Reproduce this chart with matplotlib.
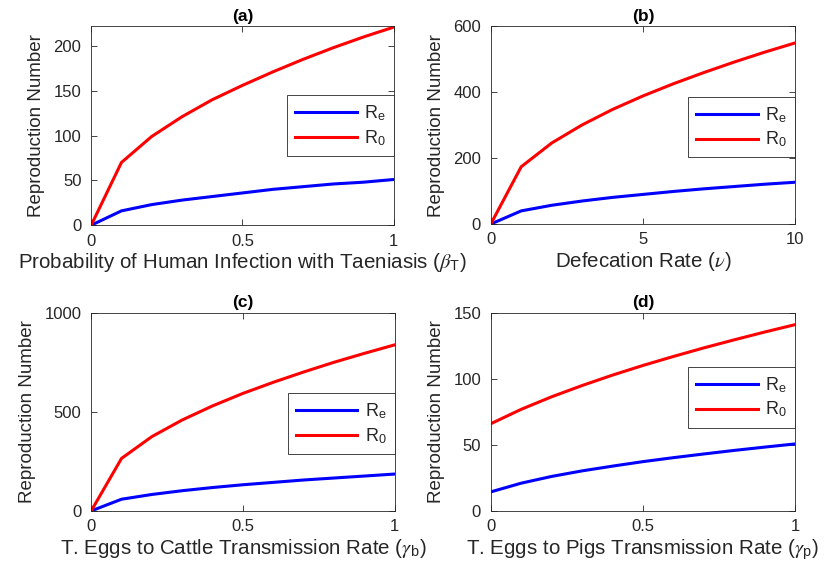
import numpy as np
import matplotlib.pyplot as plt

# values (11 points per curve)
x_a = [0, 0.1, 0.2, 0.3, 0.4, 0.5, 0.6, 0.7, 0.8, 0.9, 1.0]
re_a = [0, 16, 23, 28, 32, 36, 40, 43, 46, 48, 51]
r0_a = [0, 70, 99, 121, 140, 156, 171, 185, 198, 210, 221]

x_b = [0, 1, 2, 3, 4, 5, 6, 7, 8, 9, 10]
re_b = [0, 40, 57, 70, 81, 90, 99, 107, 114, 121, 127]
r0_b = [0, 174, 246, 301, 348, 389, 426, 460, 492, 522, 550]

x_c = [0, 0.1, 0.2, 0.3, 0.4, 0.5, 0.6, 0.7, 0.8, 0.9, 1.0]
re_c = [0, 59, 83, 102, 118, 132, 144, 156, 166, 176, 186]
r0_c = [0, 265, 375, 459, 530, 593, 649, 701, 750, 795, 838]

x_d = [0, 0.1, 0.2, 0.3, 0.4, 0.5, 0.6, 0.7, 0.8, 0.9, 1.0]
re_d = [14.4, 21.0, 26.1, 30.3, 33.9, 37.3, 40.3, 43.1, 45.8, 48.3, 50.7]
r0_d = [66, 76.9, 86.4, 94.9, 102.8, 110.1, 116.9, 123.4, 129.5, 135.4, 141]

txt = '#262626'
plt.rcParams['font.family'] = 'Liberation Sans'
plt.rcParams['mathtext.fontset'] = 'stix'

fig = plt.figure(figsize=(8.29, 5.76), dpi=100)

panels = [
    # rect, x, re, r0, title, xlabel, xlim, ylim, xticks, yticks, legend y
    ([0.110, 0.609, 0.365, 0.3455], x_a, re_a, r0_a, '(a)',
     r'Probability of Human Infection with Taeniasis ($\beta_\mathregular{T}$)',
     (0, 1), (0, 222), [0, 0.5, 1], [0, 50, 100, 150, 200], 0.50),
    ([0.592, 0.611, 0.367, 0.343], x_b, re_b, r0_b, '(b)',
     r'Defecation Rate ($\nu$)',
     (0, 10), (0, 600), [0, 5, 10], [0, 200, 400, 600], 0.49),
    ([0.110, 0.113, 0.366, 0.344], x_c, re_c, r0_c, '(c)',
     r'T. Eggs to Cattle Transmission Rate ($\gamma_\mathregular{b}$)',
     (0, 1), (0, 1000), [0, 0.5, 1], [0, 500, 1000], 0.44),
    ([0.592, 0.113, 0.367, 0.344], x_d, re_d, r0_d, '(d)',
     r'T. Eggs to Pigs Transmission Rate ($\gamma_\mathregular{p}$)',
     (0, 1), (0, 150), [0, 0.5, 1], [0, 50, 100, 150], 0.573),
]

for rect, x, re, r0, title, xlabel, xlim, ylim, xt, yt, ly in panels:
    ax = fig.add_axes(rect)
    ax.plot(x, re, color='#0000ff', lw=2.2, label=r'R$_\mathregular{e}$')
    ax.plot(x, r0, color='#ff0000', lw=2.2, label=r'R$_\mathregular{0}$')
    ax.set_xlim(*xlim)
    ax.set_ylim(*ylim)
    ax.set_xticks(xt)
    ax.set_xticklabels(['0', '0.5', '1'] if xlim[1] == 1 else [str(v) for v in xt])
    ax.set_yticks(yt)
    ax.tick_params(direction='in', top=True, right=True, labelsize=12,
                   colors=txt, length=4, width=0.6)
    ax.tick_params(axis='x', pad=6)
    ax.tick_params(axis='y', pad=7)
    for s in ax.spines.values():
        s.set_color(txt)
        s.set_linewidth(0.6)
    ax.set_title(title, fontsize=12.5, fontweight='bold', color='black', pad=4)
    ax.set_xlabel(xlabel, fontsize=14.8, color=txt, labelpad=2)
    ax.set_ylabel('Reproduction Number', fontsize=13.5, color=txt, labelpad=6)
    leg = ax.legend(loc='center right', bbox_to_anchor=(1.0, ly), fontsize=13,
                    handlelength=3.4, fancybox=False, framealpha=1,
                    edgecolor=txt, borderaxespad=0, labelspacing=0.3,
                    handletextpad=0.4, borderpad=0.45)
    leg.get_frame().set_linewidth(0.6)
    for t in leg.get_texts():
        t.set_color(txt)

fig.savefig('out.png', dpi=100)
